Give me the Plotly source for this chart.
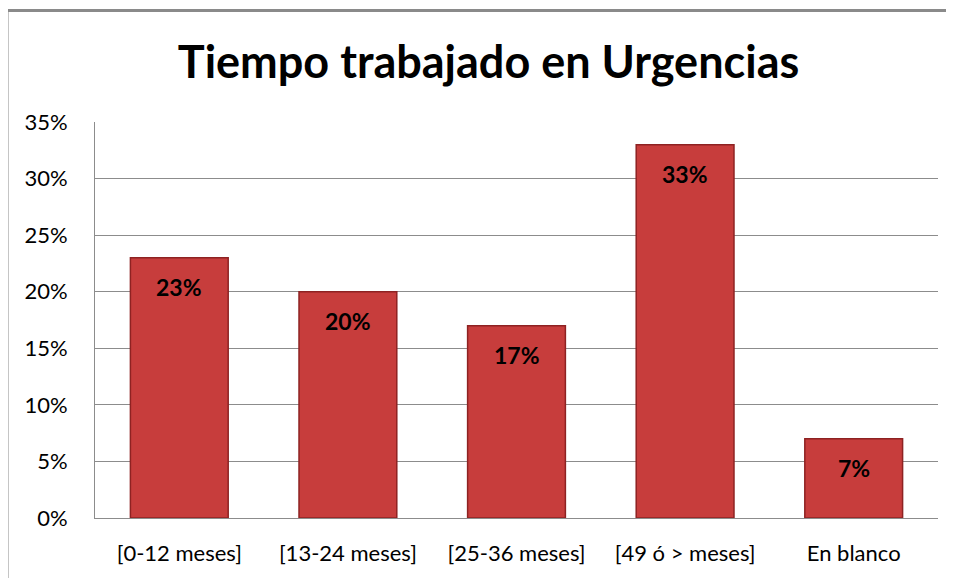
import plotly.graph_objects as go

categories = ["[0-12 meses]", "[13-24 meses]", "[25-36 meses]", "[49 ó > meses]", "En blanco"]
values = [23, 20, 17, 33, 7]
labels = ["23%", "20%", "17%", "33%", "7%"]
tick_vals = [0, 5, 10, 15, 20, 25, 30, 35]
tick_text = ["0%", "5%", "10%", "15%", "20%", "25%", "30%", "35%"]

FONT = "Lato"

fig = go.Figure(
    go.Bar(
        x=categories,
        y=values,
        marker=dict(color="#C73D3C", line=dict(color="#8E2222", width=1.5)),
        hoverinfo="skip",
    )
)

annotations = [
    dict(x=c, y=v, xref="x", yref="y", text="<b>%s</b>" % t, showarrow=False,
         yshift=-29, yanchor="middle",
         font=dict(family=FONT, size=23, color="black"))
    for c, v, t in zip(categories, values, labels)
]

fig.update_layout(
    width=946,
    height=570,
    margin=dict(l=87, r=16, t=114, b=58),
    paper_bgcolor="white",
    plot_bgcolor="white",
    bargap=0.42,
    showlegend=False,
    title=dict(
        text="<b>Tiempo trabajado en Urgencias</b>",
        x=0.508,
        xanchor="center",
        yref="container",
        y=0.905,
        yanchor="middle",
        font=dict(family=FONT, size=45, color="black"),
    ),
    font=dict(family=FONT, color="black"),
    annotations=annotations,
    shapes=[
        dict(type="line", xref="paper", yref="paper", x0=-0.1044, x1=-0.1044, y0=-0.3, y1=1.2814,
             line=dict(color="#8A8A8A", width=3)),
        dict(type="line", xref="paper", yref="paper", x0=-0.1044, x1=1.1, y0=1.2814, y1=1.2814,
             line=dict(color="#8A8A8A", width=3)),
    ],
)

fig.update_yaxes(
    range=[0, 35],
    tickvals=tick_vals,
    ticktext=tick_text,
    showgrid=True,
    gridcolor="#8C8C8C",
    gridwidth=1,
    showline=True,
    linecolor="#8C8C8C",
    linewidth=1,
    ticks="",
    ticklabelstandoff=22,
    tickfont=dict(family=FONT, size=22, color="black"),
    zeroline=False,
)
fig.update_xaxes(
    showline=True,
    linecolor="#8C8C8C",
    linewidth=1,
    ticks="",
    ticklabelstandoff=16,
    tickfont=dict(family=FONT, size=22, color="black"),
)

fig.write_html("out.html")
